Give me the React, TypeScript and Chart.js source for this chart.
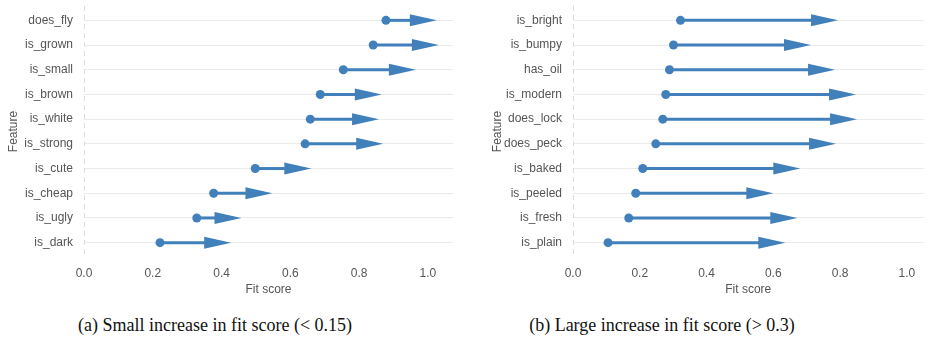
import React, { useEffect, useRef } from "react";
import { Chart, registerables } from "chart.js";

Chart.register(...registerables);

// Panel (a): small increase in fit score
const featuresA = ["does_fly", "is_grown", "is_small", "is_brown", "is_white", "is_strong", "is_cute", "is_cheap", "is_ugly", "is_dark"];
const startA = [0.878, 0.841, 0.754, 0.687, 0.658, 0.643, 0.498, 0.377, 0.328, 0.221];
const endA = [1.026, 1.032, 0.965, 0.866, 0.858, 0.870, 0.661, 0.548, 0.458, 0.428];

// Panel (b): large increase in fit score
const featuresB = ["is_bright", "is_bumpy", "has_oil", "is_modern", "does_lock", "does_peck", "is_baked", "is_peeled", "is_fresh", "is_plain"];
const startB = [0.322, 0.301, 0.289, 0.278, 0.269, 0.248, 0.209, 0.188, 0.167, 0.105];
const endB = [0.794, 0.713, 0.785, 0.848, 0.851, 0.788, 0.681, 0.600, 0.672, 0.636];

const xTicks = [0, 0.2, 0.4, 0.6, 0.8, 1.0];
const captionA = "(a) Small increase in fit score (< 0.15)";
const captionB = "(b) Large increase in fit score (> 0.3)";

const COLOR = "#4180bb";
const TEXT = "#555555";
const FONT = "'Liberation Sans', Arial, sans-serif";

function ArrowChart(props: {
  labels: string[]; start: number[]; end: number[]; xMax: number;
  yWidth: number; padLeft: number; padRight: number;
}) {
  const ref = useRef<HTMLCanvasElement>(null);
  useEffect(() => {
    const { labels, start, end, xMax, yWidth, padLeft, padRight } = props;
    const arrowPlugin = {
      id: "arrows",
      beforeDatasetsDraw(chart: any) {
        const xs = chart.scales.x, ys = chart.scales.y;
        const ctx = chart.ctx;
        const area = chart.chartArea;
        ctx.save();
        // dashed vertical axis line
        ctx.strokeStyle = "#dcdcdc";
        ctx.lineWidth = 1;
        ctx.setLineDash([5, 4]);
        ctx.beginPath();
        ctx.moveTo(area.left + 0.5, area.top - 2);
        ctx.lineTo(area.left + 0.5, area.bottom + 2);
        ctx.stroke();
        ctx.setLineDash([]);
        ctx.fillStyle = COLOR;
        ctx.strokeStyle = COLOR;
        const headLen = 27, headHalf = 6;
        for (let i = 0; i < labels.length; i++) {
          const x0 = xs.getPixelForValue(start[i]);
          const x1 = xs.getPixelForValue(end[i]);
          const y = ys.getPixelForValue(i);
          ctx.lineWidth = 3;
          ctx.beginPath();
          ctx.moveTo(x0, y);
          ctx.lineTo(x1 - headLen + 1, y);
          ctx.stroke();
          ctx.beginPath();
          ctx.moveTo(x1 - headLen, y - headHalf);
          ctx.lineTo(x1, y);
          ctx.lineTo(x1 - headLen, y + headHalf);
          ctx.closePath();
          ctx.fill();
        }
        ctx.restore();
      },
    };
    const chart = new Chart(ref.current!, {
      type: "scatter",
      data: {
        labels,
        datasets: [{
          data: start.map((s, i) => ({ x: s, y: labels[i] })) as any,
          backgroundColor: COLOR,
          borderColor: COLOR,
          pointRadius: 4.5,
          pointBorderWidth: 0,
        }],
      },
      options: {
        animation: false,
        responsive: false,
        maintainAspectRatio: false,
        layout: { padding: { top: 8, left: padLeft, right: padRight, bottom: 0 } },
        plugins: { legend: { display: false }, tooltip: { enabled: false } },
        scales: {
          x: {
            type: "linear",
            min: 0,
            max: xMax,
            afterBuildTicks: (s: any) => { s.ticks = xTicks.map((v) => ({ value: v })); },
            afterFit: (s: any) => { s.height = 45; s.paddingLeft = 0; s.paddingRight = 0; },
            grid: { display: false, drawTicks: false },
            border: { display: false },
            ticks: {
              color: TEXT, font: { family: FONT, size: 12 }, padding: 11,
              callback: (v: any) => Number(v).toFixed(1),
            },
            title: { display: true, text: "Fit score", color: TEXT, font: { family: FONT, size: 12 }, padding: { top: 0, bottom: 3 } },
          },
          y: {
            type: "category",
            labels,
            offset: true,
            afterFit: (s: any) => { s.width = yWidth; s.paddingTop = 0; s.paddingBottom = 0; },
            grid: { display: true, color: "#ebebeb", lineWidth: 1, drawTicks: false },
            border: { display: false },
            ticks: { color: TEXT, font: { family: FONT, size: 12 }, padding: 11 },
            title: { display: true, text: "Feature", color: TEXT, font: { family: FONT, size: 12 }, padding: { top: 6, bottom: 0 } },
          },
        },
      },
      plugins: [arrowPlugin],
    });
    return () => chart.destroy();
  }, []);
  return <canvas ref={ref} width={464} height={300} style={{ display: "block", width: 464, height: 300 }} />;
}

export default function App() {
  const cap: React.CSSProperties = {
    position: "absolute", top: 314, fontFamily: "'Liberation Serif', 'Times New Roman', serif",
    fontSize: 18, lineHeight: "22px", color: "#111", whiteSpace: "nowrap", transform: "translateX(-50%)",
  };
  return (
    <div style={{ position: "fixed", left: 0, top: 0, width: 928, height: 338, background: "#fff" }}>
      <div style={{ position: "absolute", left: 0, top: 0 }}>
        <ArrowChart labels={featuresA} start={startA} end={endA} xMax={1.073} yWidth={84} padLeft={0} padRight={11} />
      </div>
      <div style={{ position: "absolute", left: 464, top: 0 }}>
        <ArrowChart labels={featuresB} start={startB} end={endB} xMax={1.05} yWidth={89} padLeft={20} padRight={3} />
      </div>
      <div style={{ ...cap, left: 215 }}>{captionA}</div>
      <div style={{ ...cap, left: 662 }}>{captionB}</div>
    </div>
  );
}
